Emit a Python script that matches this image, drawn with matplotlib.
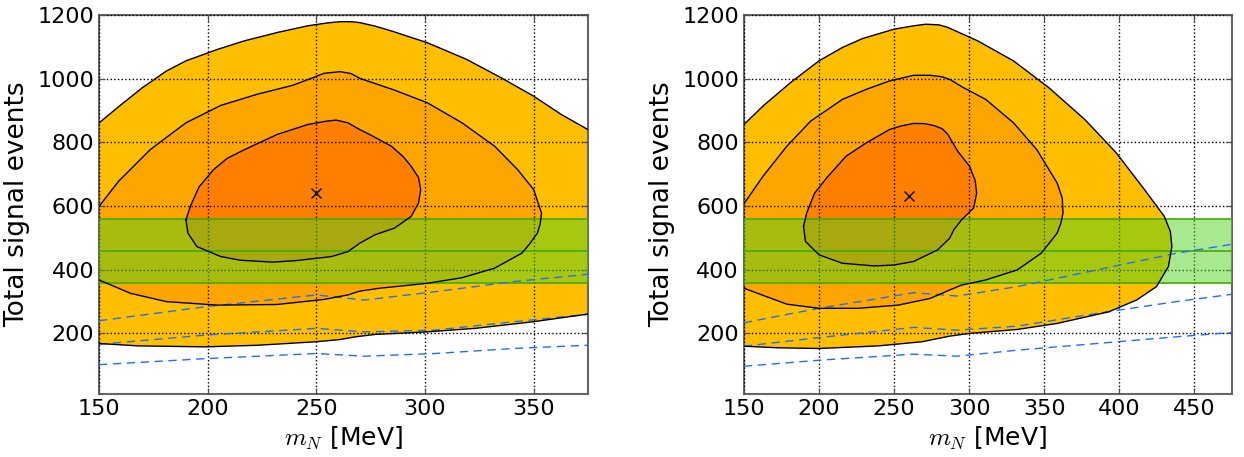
import matplotlib
matplotlib.use("Agg")
import matplotlib.pyplot as plt

plt.rcParams['mathtext.fontset'] = 'cm'
plt.rcParams['font.family'] = ['DejaVu Sans']

# ---- left panel (m_N 150-375) ----
l_outer_top_x = [150, 159, 170, 181, 190, 204.5, 217, 232, 246, 255, 261, 266, 270, 277, 284.5, 301, 319, 335, 350, 362.6, 375]
l_outer_top_y = [861, 912, 972, 1024, 1056, 1092, 1119, 1145, 1166, 1175, 1179, 1179, 1176, 1165, 1150, 1113, 1061, 1003, 945, 888, 840]
l_outer_bot_x = [150, 168, 199, 223, 250, 261, 268, 277, 301, 323, 350, 375]
l_outer_bot_y = [168.5, 161, 158, 163, 174, 181, 189.5, 197, 205, 216, 237, 261]

l_mid_x = [150, 159, 173.6, 190, 206, 222.7, 239, 248, 253.6, 261, 266, 270, 286, 301, 317, 332, 342.6, 350, 353.6,
           353, 351.7, 348, 344.5, 332, 317, 301, 279, 270, 264.5, 253.6, 232, 204.5, 181, 164.5, 150]
l_mid_y = [599, 678, 777.5, 861.5, 916, 951, 979, 1002, 1017, 1022, 1016, 1001, 964, 924.5, 861.5, 788, 714.5, 651.5, 578,
           545, 515, 480, 452, 405, 375, 357.5, 342, 333, 321, 307, 291, 289, 300, 326, 368]

l_in_x = [190, 192, 196, 202.7, 209, 217, 232, 246, 254, 259, 264.5, 270, 275.4, 284.5, 290, 293.6, 297, 298, 297, 293.6, 286, 277, 270,
          264.5, 257, 241, 230, 215, 206, 195, 190.9, 190]
l_in_y = [557, 599, 660, 714.5, 750, 777.5, 825, 856, 866, 870, 861.5, 840, 821.6, 788, 755, 725, 690, 651.5, 609.5, 567.5, 531, 510, 483.5,
          457, 441.5, 429, 424, 430, 441.5, 473, 515, 557]

l_best = (250, 641)

l_dash_x = [150, 199, 250, 272, 304.5, 341, 375]
l_dash1_y = [240, 284, 321, 305, 331, 363, 386]
l_dash2_y = [166, 195, 216, 205, 210.5, 237, 260]
l_dash3_y = [102, 121, 137, 128.6, 137, 153, 163]

# ---- right panel (m_N 150-475) ----
r_outer_x = [150, 162.7, 181, 200, 215.6, 229, 250, 263, 271, 280, 285.8, 305.6, 329.5, 353, 377, 398, 416.8, 430, 434, 435,
             432.7, 424.7, 411.5, 393, 358.6, 332, 300, 287, 268.6, 239.5, 200, 173, 150]
r_outer_y = [856, 914, 987.5, 1056, 1098, 1126, 1155.5, 1166, 1171, 1169, 1161, 1119, 1056, 972, 872, 767, 651.5, 567.5, 520, 473,
             410, 347, 305, 268, 231.5, 212.6, 200, 191.6, 174, 161, 152.8, 155, 160]

r_mid_x = [150, 162.7, 178.6, 194.5, 215.6, 231.5, 247, 263, 274, 282, 287, 295, 311, 329.5, 345, 358.6, 362, 362.5,
           361, 358.6, 348, 332, 311, 295, 287, 274, 252.7, 226, 200, 178.6, 150]
r_mid_y = [607, 693.5, 788, 867, 935, 966.5, 993, 1010.6, 1010.6, 1006, 998, 975, 935, 861.5, 777.5, 672.5, 625, 578,
           545, 515, 452, 399.5, 368, 352, 336.5, 310, 289, 279, 279, 292, 342]

r_in_x = [189.7, 191.8, 197, 205, 218, 231.5, 247, 255, 263, 270, 276.5, 282, 285.8, 292.4, 300.3, 304, 305, 303, 295, 289.8, 287, 279,
          263, 250, 236.8, 215.6, 200, 191, 189.7]
r_in_y = [536, 578, 640, 688, 756.5, 798.5, 840.5, 852, 859.4, 859, 853, 843, 825, 772, 725, 680, 641, 594, 557, 525.5, 499, 462.5,
          426, 415, 412, 420.5, 447, 489, 536]

r_best = (260, 630.5)

r_dash_x = [150, 200, 263, 292, 332, 385, 438, 475]
r_dash1_y = [233.6, 279, 328, 317.6, 347, 399.5, 452, 480]
r_dash2_y = [160, 187, 219, 210.5, 223, 263, 300, 323]
r_dash3_y = [97, 116, 135, 128.6, 147.5, 168.5, 189.5, 203]

# measured band (same on both panels)
band_lo, band_mid, band_hi = 360, 460, 560

c_outer, c_mid, c_in = '#ffbf00', '#ffa500', '#ff8000'
c_dash = '#1f6fff'

fig = plt.figure(figsize=(12.44, 4.57), dpi=100)
ax1 = fig.add_axes([0.0796, 0.1379, 0.3931, 0.8293])
ax2 = fig.add_axes([0.598, 0.1379, 0.3923, 0.8293])


def band(ax):
    ax.axhspan(band_lo, band_hi, color='#52d21e', alpha=0.5, lw=0, zorder=3)
    for v in (band_lo, band_mid, band_hi):
        ax.axhline(v, color='#44aa00', lw=1.2, zorder=3.1)


def dashes(ax, xs, ys_list):
    for ys in ys_list:
        ax.plot(xs, ys, color=c_dash, ls='--', lw=1, dashes=(6, 4), zorder=4)


def style(ax, xmax, xticks):
    ax.set_xlim(150, xmax)
    ax.set_ylim(10, 1200)
    ax.set_xticks(xticks)
    ax.set_yticks([200, 400, 600, 800, 1000, 1200])
    ax.tick_params(labelsize=16, direction='in', length=4, top=True, right=True, color='0.3')
    ax.grid(True, color='black', ls=':', lw=1)
    ax.set_axisbelow(False)
    for s in ax.spines.values():
        s.set_color('0.4')
        s.set_linewidth(1.5)
    ax.set_xlabel(r'$m_N$ [MeV]', fontsize=18, labelpad=4)
    ax.set_ylabel('Total signal events', fontsize=19, labelpad=5)


# left panel
ax1.fill(l_outer_top_x + l_outer_bot_x[::-1], l_outer_top_y + l_outer_bot_y[::-1], color=c_outer, lw=0, zorder=1)
ax1.fill(l_mid_x, l_mid_y, color=c_mid, lw=0, zorder=1.1)
ax1.fill(l_in_x, l_in_y, color=c_in, lw=0, zorder=1.2)
band(ax1)
for xs, ys in ((l_outer_top_x, l_outer_top_y), (l_outer_bot_x, l_outer_bot_y), (l_mid_x, l_mid_y), (l_in_x, l_in_y)):
    ax1.plot(xs, ys, color='black', lw=1, zorder=5)
dashes(ax1, l_dash_x, [l_dash1_y, l_dash2_y, l_dash3_y])
ax1.plot(*l_best, marker='x', color='black', ms=7, mew=1, zorder=6)
style(ax1, 375, [150, 200, 250, 300, 350])

# right panel
ax2.fill(r_outer_x, r_outer_y, color=c_outer, lw=0, zorder=1)
ax2.fill(r_mid_x, r_mid_y, color=c_mid, lw=0, zorder=1.1)
ax2.fill(r_in_x, r_in_y, color=c_in, lw=0, zorder=1.2)
band(ax2)
for xs, ys in ((r_outer_x, r_outer_y), (r_mid_x, r_mid_y), (r_in_x, r_in_y)):
    ax2.plot(xs, ys, color='black', lw=1, zorder=5)
dashes(ax2, r_dash_x, [r_dash1_y, r_dash2_y, r_dash3_y])
ax2.plot(*r_best, marker='x', color='black', ms=7, mew=1, zorder=6)
style(ax2, 475, [150, 200, 250, 300, 350, 400, 450])

fig.savefig('out.png', dpi=100)
